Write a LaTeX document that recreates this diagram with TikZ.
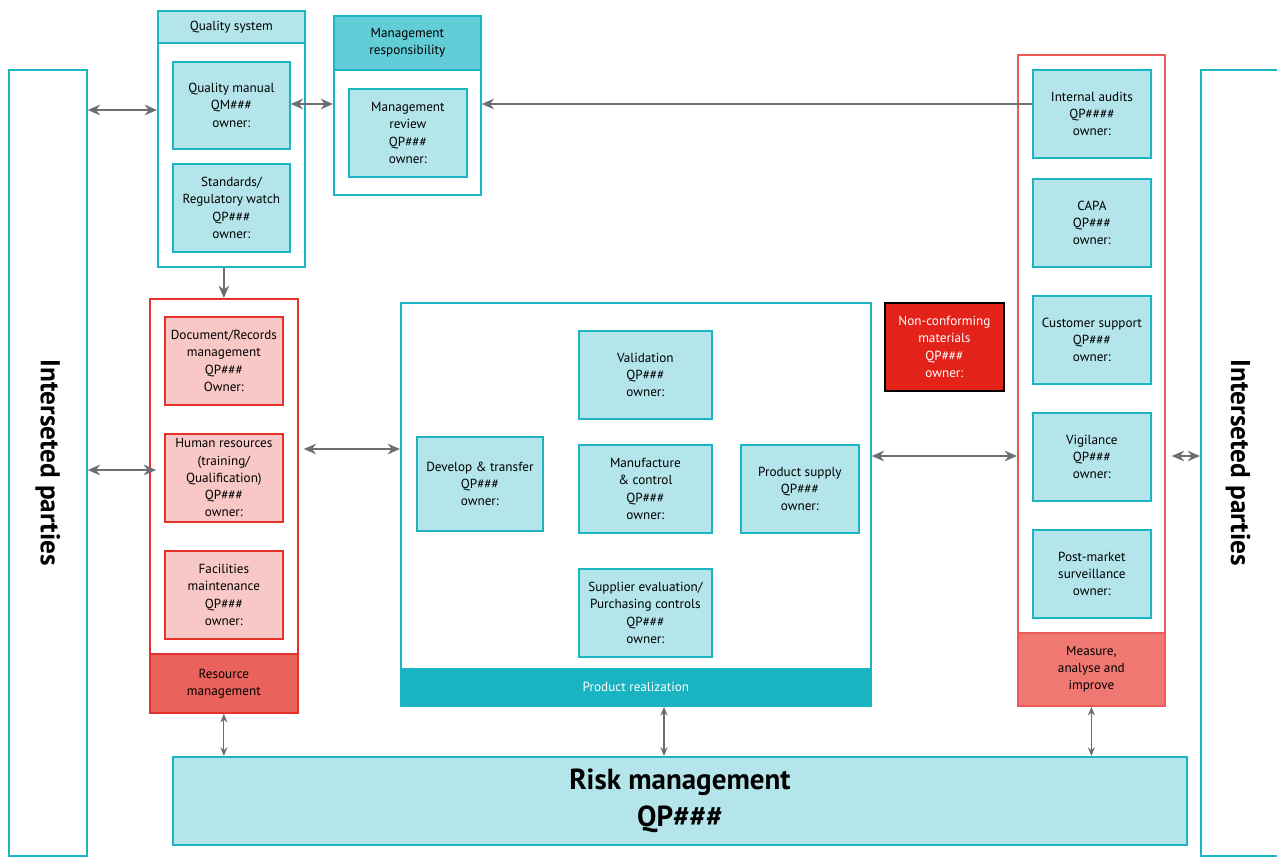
\documentclass[tikz,border=0pt]{standalone}
\usepackage{fontspec}
\setmainfont{PT Sans}
\usetikzlibrary{arrows.meta}
\definecolor{qteal}{HTML}{1BB5C3}
\definecolor{qcyan}{HTML}{B3E5EA}
\definecolor{qhead}{HTML}{62CDD6}
\definecolor{qdark}{HTML}{19B3C1}
\definecolor{qred}{HTML}{E5322B}
\definecolor{qpink}{HTML}{F8C8C6}
\definecolor{qrmfoot}{HTML}{EA625C}
\definecolor{qmai}{HTML}{EC5A55}
\definecolor{qmaifoot}{HTML}{F07872}
\definecolor{qncm}{HTML}{E3231A}
\definecolor{qgray}{HTML}{6D6E71}
\tikzset{sz/.style 2 args={minimum width=#1*0.02cm, minimum height=#2*0.02cm}}
\tikzset{px/.style={anchor=north west, inner sep=0pt, align=center, line width=1pt, font=\fontsize{7.5}{9.8}\selectfont}}
\tikzset{tealframe/.style={px, draw=qteal, fill=white}}
\tikzset{redframe/.style={px, draw=#1, fill=white}}
\tikzset{cyanbox/.style={px, draw=qteal, fill=qcyan}}
\tikzset{pinkbox/.style={px, draw=qred, fill=qpink}}
\tikzset{headbox/.style={px, anchor=#1}}
\tikzset{link/.style={draw=qgray, line width=1.1pt, {Stealth[length=7pt,width=6pt]}-{Stealth[length=7pt,width=6pt]}}}
\tikzset{thinlink/.style={draw=qgray, line width=0.7pt, {Stealth[length=5pt,width=4pt]}-{Stealth[length=5pt,width=4pt]}}}
\tikzset{sidetext/.style={rotate=-90, font=\bfseries\fontsize{15.5}{18}\selectfont}}

\begin{document}
\begin{tikzpicture}[x=0.02cm, y=-0.02cm]
    \useasboundingbox (0,0) rectangle (1277,857);
    \clip (0,0) rectangle (1277,857);
    % rows used by the horizontal connectors
    \coordinate (qsrow) at (0,110);
    \coordinate (toprow) at (0,104);
    \coordinate (hrrow) at (0,470);
    \coordinate (midrow) at (0,449);
    \coordinate (rightrow) at (0,456);
    \coordinate (prcol) at (664,0);

    % interested parties
    \node[tealframe, sz={78}{786}] (ipl) at (8,69) {};
    \node[tealframe, sz={90}{786}] (ipr) at (1200,69) {};
    \node[sidetext] (ipltext) at (ipl.center) {Interseted parties};
    \node[sidetext] (iprtext) at (1238,463) {Interseted parties};

    % quality system
    \node[tealframe, sz={147}{256}] (qs) at (157,10) {};
    \node[cyanbox, headbox=north, sz={147}{32}] (qshead) at (qs.north) {Quality system};
    \node[cyanbox, sz={117}{87}] (qm) at (172,61) {Quality manual\\QM\#\#\#\\owner:};
    \node[cyanbox, sz={117}{88}] (sr) at (172,163) {Standards/\\Regulatory watch\\QP\#\#\#\\owner:};

    % management responsibility
    \node[tealframe, sz={147}{179}] (mr) at (333,15) {};
    \node[cyanbox, headbox=north, fill=qhead, sz={147}{54}] (mrhead) at (mr.north) {Management\\responsibility};
    \node[cyanbox, sz={118}{88}] (mrev) at (348,88) {Management\\review\\QP\#\#\#\\owner:};

    % resource management
    \node[redframe=qred, sz={148}{414}] (rm) at (149,298) {};
    \node[px, headbox=south, draw=qred, fill=qrmfoot, sz={148}{59}] (rmfoot) at (rm.south) {Resource\\management};
    \foreach \nm/\y/\txt in {doc/316/{Document/Records\\management\\QP\#\#\#\\Owner:},
                             hr/433/{Human resources\\(training/\\Qualification)\\QP\#\#\#\\owner:},
                             fac/550/{Facilities\\maintenance\\QP\#\#\#\\owner:}} {
        \node[pinkbox, sz={118}{88}] (\nm) at (164,\y) {\txt};
    }

    % product realization
    \node[tealframe, sz={470}{403}] (pr) at (400,302) {};
    \node[px, headbox=south, draw=qteal, fill=qdark, text=white, sz={470}{37}] (prfoot) at (pr.south) {Product realization};
    \node[cyanbox, sz={126}{94}] (dev) at (416,436) {Develop \& transfer\\QP\#\#\#\\owner:};
    \node[cyanbox, sz={133}{88}] (val) at (578,330) {Validation\\QP\#\#\#\\owner:};
    \node[cyanbox, sz={133}{88}] (man) at (578,444) {Manufacture\\\& control\\QP\#\#\#\\owner:};
    \node[cyanbox, sz={133}{88}] (sup) at (578,568) {Supplier evaluation/\\Purchasing controls\\QP\#\#\#\\owner:};
    \node[cyanbox, sz={118}{88}] (ps) at (740,444) {Product supply\\QP\#\#\#\\owner:};

    \node[px, draw=black, fill=qncm, text=white, sz={119}{88}] (ncm) at (884,302) {Non-conforming\\materials\\QP\#\#\#\\owner:};

    % measure, analyse and improve
    \node[redframe=qmai, sz={147}{651}] (mai) at (1017,54) {};
    \node[px, headbox=south, draw=qmai, fill=qmaifoot, sz={147}{73}] (maifoot) at (mai.south) {Measure,\\analyse and\\improve};
    \foreach \nm/\y/\txt in {ia/69/{Internal audits\\QP\#\#\#\#\\owner:},
                             capa/178/{CAPA\\QP\#\#\#\\owner:},
                             cs/295/{Customer support\\QP\#\#\#\\owner:},
                             vig/412/{Vigilance\\QP\#\#\#\\owner:},
                             pms/529/{Post-market\\surveillance\\owner:}} {
        \node[cyanbox, sz={118}{88}] (\nm) at (1032,\y) {\txt};
    }

    % risk management
    \node[cyanbox, sz={1014}{88}, font=\bfseries\fontsize{16.5}{21.5}\selectfont] (risk) at (172,756) {Risk management\\QP\#\#\#};

    % connectors
    \draw[link] (ipl.east |- qsrow) -- (qs.west |- qsrow);
    \draw[link] (qm.east |- toprow) -- (mr.west |- toprow);
    \draw[draw=qgray, line width=1.1pt, -{Stealth[length=7pt,width=6pt]}] (ia.west |- toprow) -- (mr.east |- toprow);
    \draw[draw=qgray, line width=1.1pt, -{Stealth[length=7pt,width=6pt]}] (rm.north |- qs.south) -- (rm.north);
    \draw[link] (ipl.east |- hrrow) -- ([xshift=7*0.02cm]rm.west |- hrrow);
    \draw[link] ([xshift=5*0.02cm]rm.east |- midrow) -- (pr.west |- midrow);
    \draw[link] (pr.east |- rightrow) -- (mai.west |- rightrow);
    \draw[link] ([xshift=6*0.02cm]mai.east |- rightrow) -- (ipr.west |- rightrow);
    \draw[thinlink] (rmfoot.south) -- (risk.north -| rmfoot.south);
    \draw[thinlink] (prfoot.south -| prcol) -- (risk.north -| prcol);
    \draw[thinlink] (maifoot.south) -- (risk.north -| maifoot.south);
\end{tikzpicture}
\end{document}
